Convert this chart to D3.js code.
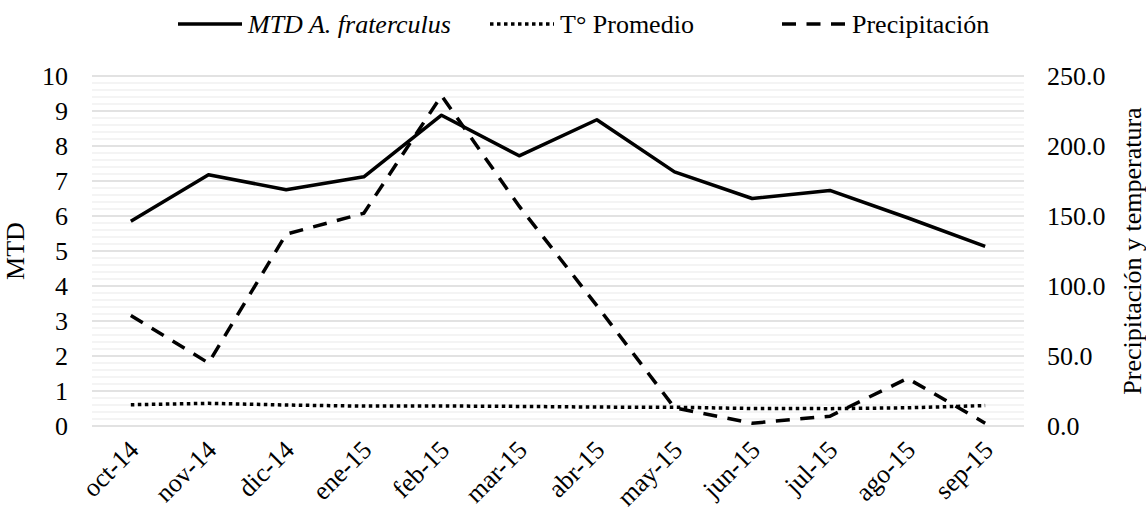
<!DOCTYPE html>
<html>
<head>
<meta charset="utf-8">
<script src="https://cdn.jsdelivr.net/npm/d3@7"></script>
<style>
  body { margin: 0; background: #fff; }
  svg text { font-family: "Liberation Serif", "Times New Roman", serif !important; fill: #000; }
</style>
</head>
<body>
<div id="chart"></div>
<script>
var months = ['oct-14', 'nov-14', 'dic-14', 'ene-15', 'feb-15', 'mar-15', 'abr-15', 'may-15', 'jun-15', 'jul-15', 'ago-15', 'sep-15']
var mtd = [5.85, 7.18, 6.75, 7.12, 8.88, 7.72, 8.75, 7.26, 6.5, 6.73, 5.95, 5.13]
var temp = [15.2, 16.2, 15.0, 14.2, 14.3, 14.0, 13.5, 13.4, 12.5, 12.4, 13.0, 14.6]
var precip = [79, 45, 137, 152, 236, 157, 86, 13, 2, 7, 34, 2]
var leftTicks = d3.range(0, 11, 1)
var rightTicks = [0, 50, 100, 150, 200, 250]

var width = 1146, height = 512
var m = {left: 92, right: 122, top: 76, bottom: 86}
var serif = '"Liberation Serif", "Times New Roman", serif'

var svg = d3.select('#chart').append('svg')
  .attr('width', width).attr('height', height)
  .style('font-family', serif)

var x = d3.scaleBand().domain(months).range([m.left, width - m.right])
var y = d3.scaleLinear().domain([0, 10]).range([height - m.bottom, m.top])
var y2 = d3.scaleLinear().domain([0, 250]).range([height - m.bottom, m.top])

// grid: minor every 0.2, major every 1
var minor = d3.range(0, 10.01, 0.2).filter(d => Math.abs(d - Math.round(d)) > 0.01)
svg.append('g').selectAll('line').data(minor).join('line')
  .attr('x1', m.left).attr('x2', width - m.right)
  .attr('y1', d => y(d)).attr('y2', d => y(d))
  .attr('stroke', '#f0f0f0').attr('stroke-width', 1.3)

svg.append('g').selectAll('line').data(leftTicks).join('line')
  .attr('x1', m.left).attr('x2', width - m.right)
  .attr('y1', d => y(d)).attr('y2', d => y(d))
  .attr('stroke', '#d9d9d9').attr('stroke-width', 1.3)

// axes
var yAxis = svg.append('g').attr('transform', `translate(${m.left},0)`)
  .call(d3.axisLeft(y).tickValues(leftTicks).tickSize(0).tickPadding(24))
var y2Axis = svg.append('g').attr('transform', `translate(${width - m.right},0)`)
  .call(d3.axisRight(y2).tickValues(rightTicks).tickSize(0).tickPadding(23).tickFormat(d3.format('.1f')))
var xAxis = svg.append('g').attr('transform', `translate(0,${height - m.bottom})`)
  .call(d3.axisBottom(x).tickSize(0))

svg.selectAll('.domain').remove()
svg.selectAll('g').attr('font-family', serif)
svg.selectAll('.tick text').attr('font-size', 26).style('font-family', serif).attr('fill', '#000')

xAxis.selectAll('.tick text')
  .attr('text-anchor', 'end')
  .attr('dy', '0.35em')
  .attr('y', 0)
  .attr('transform', 'translate(3,19) rotate(-45)')

// axis titles
svg.append('text').text('MTD')
  .attr('transform', `translate(24,${(m.top + height - m.bottom) / 2}) rotate(-90)`)
  .attr('text-anchor', 'middle').attr('font-size', 26)
svg.append('text').text('Precipitación y temperatura')
  .attr('transform', `translate(1141,${(m.top + height - m.bottom) / 2}) rotate(-90)`)
  .attr('text-anchor', 'middle').attr('font-size', 26)

// lines
var cx = d => x(d) + x.bandwidth() / 2
var lineL = d3.line().x((d, i) => cx(months[i])).y(d => y(d))
var lineR = d3.line().x((d, i) => cx(months[i])).y(d => y2(d))

svg.append('path').datum(temp).attr('d', lineR)
  .attr('fill', 'none').attr('stroke', '#000').attr('stroke-width', 3.5)
  .attr('stroke-dasharray', '3.5,3.5')
svg.append('path').datum(precip).attr('d', lineR)
  .attr('fill', 'none').attr('stroke', '#000').attr('stroke-width', 3.5)
  .attr('stroke-dasharray', '14,10.5')
svg.append('path').datum(mtd).attr('d', lineL)
  .attr('fill', 'none').attr('stroke', '#000').attr('stroke-width', 3.5)
  .attr('stroke-linejoin', 'round')

// legend
var legend = [
  {label: 'MTD A. fraterculus', dash: null, italic: true, x: 178},
  {label: 'T° Promedio', dash: '3.5,3.5', italic: false, x: 490},
  {label: 'Precipitación', dash: '14,10.5', italic: false, x: 782}
]
var lg = svg.append('g').selectAll('g').data(legend).join('g')
  .attr('transform', d => `translate(${d.x},24)`)
lg.append('line').attr('x1', 0).attr('x2', 64).attr('y1', 0).attr('y2', 0)
  .attr('stroke', '#000').attr('stroke-width', 3.5)
  .attr('stroke-dasharray', d => d.dash)
lg.append('text').text(d => d.label)
  .attr('x', 70).attr('dy', '0.35em').attr('font-size', 26)
  .attr('font-style', d => d.italic ? 'italic' : 'normal')
</script>
</body>
</html>
